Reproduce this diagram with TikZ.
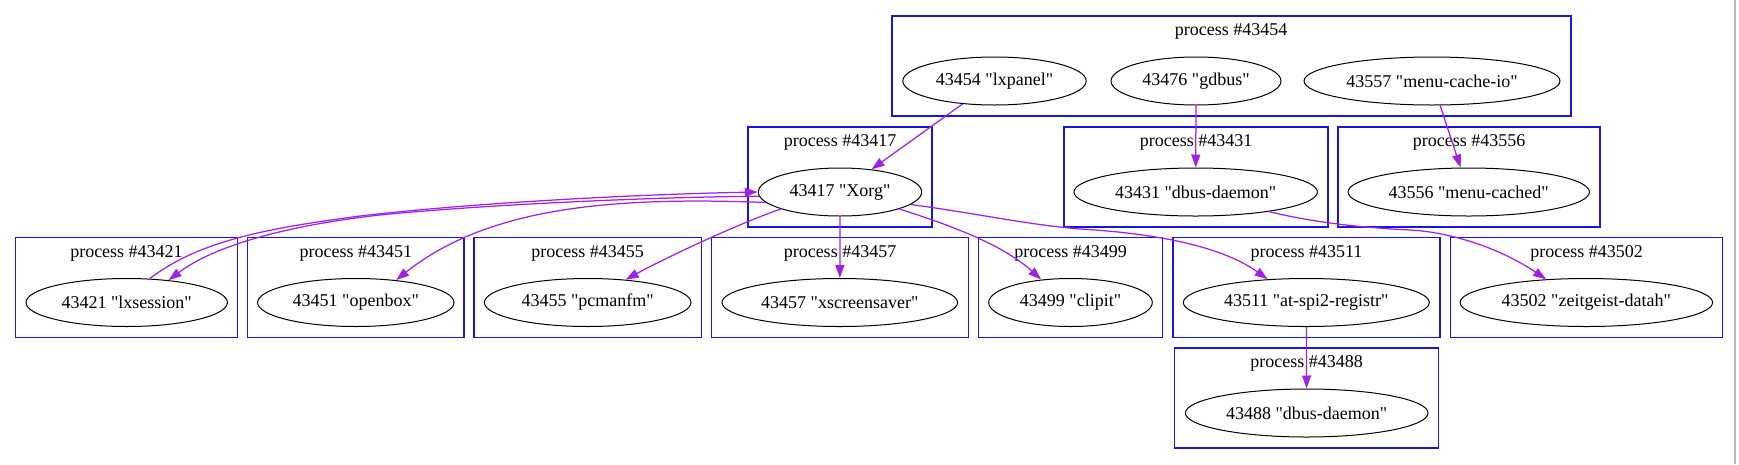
\documentclass[tikz,border=0pt]{standalone}
\usepackage{fontspec}
\setmainfont{Liberation Serif}[Ligatures=TeXOff]
\usetikzlibrary{shapes.geometric,arrows.meta}
\definecolor{edgec}{RGB}{160,32,240}
\definecolor{clus}{RGB}{20,20,235}
\begin{document}
\begin{tikzpicture}[x=1pt,y=-1pt,
  proc/.style={ellipse, draw=black, line width=1pt, inner sep=0pt, minimum height=48pt, font=\fontsize{18}{21}\selectfont},
  clusterbox/.style={draw=clus, line width=1.3pt},
  clabel/.style={font=\fontsize{18}{21}\selectfont, inner sep=0pt},
  conn/.style={draw=edgec, line width=1.25pt, -{Triangle[length=13pt,width=9pt]}},
]
\useasboundingbox[fill=white] (0,0) rectangle (1739,464);
\draw[gray!55, line width=1.5pt] (1735,0) -- (1735,464);

% clusters
\draw[clusterbox] (892,16) rectangle (1571,116);
\node[clabel] (l43454) at (1231,31) {process \#43454};
\draw[clusterbox] (748,127) rectangle (932,227);
\node[clabel] (l43417) at (840,142) {process \#43417};
\draw[clusterbox] (1064,127) rectangle (1328,227);
\node[clabel] (l43431) at (1196,142) {process \#43431};
\draw[clusterbox] (1338,127) rectangle (1600,227);
\node[clabel] (l43556) at (1469,142) {process \#43556};

\draw[clusterbox] (15.7,237.5) rectangle (237.3,337.5);
\node[clabel] (l43421) at (126.5,253) {process \#43421};
\draw[clusterbox] (247.7,237.5) rectangle (464,337.5);
\node[clabel] (l43451) at (355.8,253) {process \#43451};
\draw[clusterbox] (474,237.5) rectangle (701.3,337.5);
\node[clabel] (l43455) at (587.7,253) {process \#43455};
\draw[clusterbox] (711.7,237.5) rectangle (968.3,337.5);
\node[clabel] (l43457) at (840,253) {process \#43457};
\draw[clusterbox] (978.3,237.5) rectangle (1162.7,337.5);
\node[clabel] (l43499) at (1070.5,253) {process \#43499};
\draw[clusterbox] (1173,237.5) rectangle (1440,337.5);
\node[clabel] (l43511) at (1306.5,253) {process \#43511};
\draw[clusterbox] (1450.7,237.5) rectangle (1722.7,337.5);
\node[clabel] (l43502) at (1586.7,253) {process \#43502};
\draw[clusterbox] (1174.3,348) rectangle (1438.7,448);
\node[clabel] (l43488) at (1306.5,363) {process \#43488};

% process nodes
\node[proc, minimum width=183.4pt] (lxpanel) at (994.5,81) {43454 "lxpanel"};
\node[proc, minimum width=170pt] (gdbus) at (1196,81) {43476 "gdbus"};
\node[proc, minimum width=256pt] (menuio) at (1432,81) {43557 "menu-cache-io"};
\node[proc, minimum width=163.4pt] (xorg) at (840,192) {43417 "Xorg"};
\node[proc, minimum width=243.4pt] (dbusA) at (1195.7,192) {43431 "dbus-daemon"};
\node[proc, minimum width=241.4pt] (menucached) at (1468.7,192) {43556 "menu-cached"};
\node[proc, minimum width=201.4pt] (lxsession) at (126.7,302.5) {43421 "lxsession"};
\node[proc, minimum width=196.4pt] (openbox) at (355.8,302.5) {43451 "openbox"};
\node[proc, minimum width=206.6pt] (pcmanfm) at (587.7,302.5) {43455 "pcmanfm"};
\node[proc, minimum width=235.6pt] (xscreensaver) at (839.8,302.5) {43457 "xscreensaver"};
\node[proc, minimum width=163.6pt] (clipit) at (1070.5,302.5) {43499 "clipit"};
\node[proc, minimum width=246pt] (spi) at (1306.3,302.5) {43511 "at-spi2-registr"};
\node[proc, minimum width=252.6pt] (zeitgeist) at (1586.3,302.5) {43502 "zeitgeist-datah"};
\node[proc, minimum width=242.6pt] (dbusB) at (1306.7,413) {43488 "dbus-daemon"};

% connectors
\draw[conn] (lxpanel) -- (xorg);
\draw[conn] (gdbus) -- (dbusA);
\draw[conn] (menuio) -- (menucached);
\draw[conn] (xorg) -- (xscreensaver);
\draw[conn] (spi) -- (dbusB);
\draw[conn] (xorg.196) .. controls (740,223) and (665,258) .. (pcmanfm.31);
\draw[conn] (xorg.-16) .. controls (940,222) and (1000,242) .. (clipit.142);
\draw[conn] (xorg.-10) .. controls (980,214) and (1030,225) .. (1080,229) .. controls (1150,233) and (1220,245) .. (spi.149);
\draw[conn] (dbusA.-15) .. controls (1320,224) and (1370,228) .. (1410,230) .. controls (1450,232) and (1500,248) .. (zeitgeist.150);
\draw[conn] (lxsession.46) .. controls (200,240) and (270,228) .. (360,216) .. controls (480,202) and (650,194) .. (xorg.180);
\draw[conn] (xorg.183) .. controls (650,197) and (480,205) .. (380,215) .. controls (290,225) and (215,245) .. (lxsession.28);
\draw[conn] (xorg.188) .. controls (620,197) and (490,205) .. (openbox.29);
\end{tikzpicture}
\end{document}
